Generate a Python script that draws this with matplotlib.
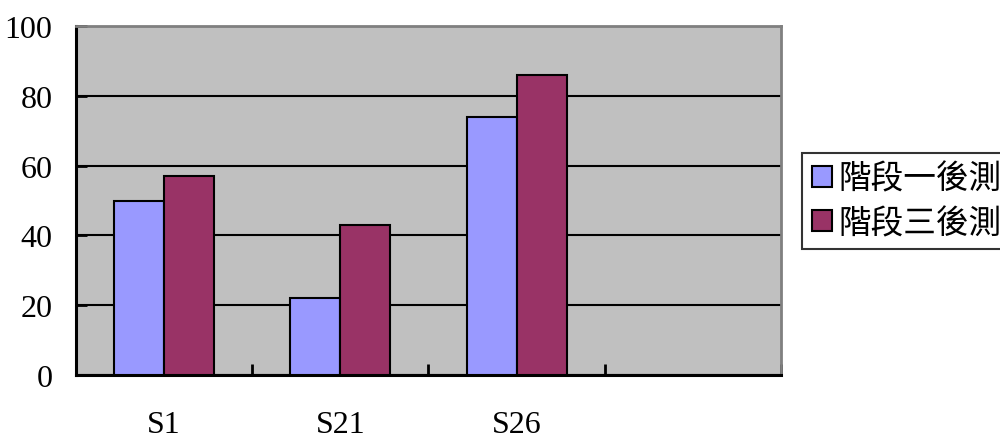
import numpy as np
import matplotlib
matplotlib.use("Agg")
import matplotlib.pyplot as plt
from matplotlib.patches import Patch

categories = ["S1", "S21", "S26"]
stage1_post = [50, 22, 74]
stage3_post = [57, 43, 86]
series_labels = ["階段一後測", "階段三後測"]
y_ticks = [0, 20, 40, 60, 80, 100]

blue = "#9999FF"
plum = "#993366"

fig = plt.figure(figsize=(10, 4.39), dpi=100)
ax = fig.add_axes([0.076, 0.1435, 0.705, 0.795])
ax.set_facecolor("#C0C0C0")

# four category slots, last one left empty
n_slots = 4
x = np.arange(len(categories))
w = 0.284
ax.bar(x - w / 2, stage1_post, w, color=blue, edgecolor="black", linewidth=1.5, zorder=3)
ax.bar(x + w / 2, stage3_post, w, color=plum, edgecolor="black", linewidth=1.5, zorder=3)

ax.set_xlim(-0.5, n_slots - 0.5)
ax.set_ylim(0, 100)

ax.set_yticks(y_ticks)
ax.set_yticklabels([str(v) for v in y_ticks], family="Liberation Serif", fontsize=23)
ax.yaxis.grid(True, color="black", linewidth=1.5, zorder=1)
ax.set_axisbelow(True)
ax.tick_params(axis="y", direction="in", length=8, width=2, pad=17)

ax.set_xticks(x)
ax.set_xticklabels(categories, family="Liberation Serif", fontsize=23)
ax.set_xticks(np.arange(n_slots) + 0.5, minor=True)
ax.tick_params(axis="x", which="major", length=0, pad=25)
ax.tick_params(axis="x", which="minor", direction="in", length=8, width=2)

for side in ("left", "bottom"):
    ax.spines[side].set_color("black")
    ax.spines[side].set_linewidth(2.2)
for side in ("top", "right"):
    ax.spines[side].set_color("#808080")
    ax.spines[side].set_linewidth(2)

handles = [Patch(facecolor=blue, edgecolor="black", linewidth=1.5),
           Patch(facecolor=plum, edgecolor="black", linewidth=1.5)]
leg = fig.legend(handles, series_labels, loc="upper left",
                 bbox_to_anchor=(0.802, 1 - 154 / 439),
                 prop={"family": ["Noto Sans CJK TC", "DejaVu Sans"], "size": 23.5},
                 fancybox=False, frameon=True, handlelength=0.62, handleheight=0.62,
                 handletextpad=0.2, borderpad=0.3, labelspacing=0.38,
                 borderaxespad=0)
leg.get_frame().set_edgecolor("black")
leg.get_frame().set_linewidth(1.5)

fig.savefig("out.png", dpi=100, facecolor="white")
